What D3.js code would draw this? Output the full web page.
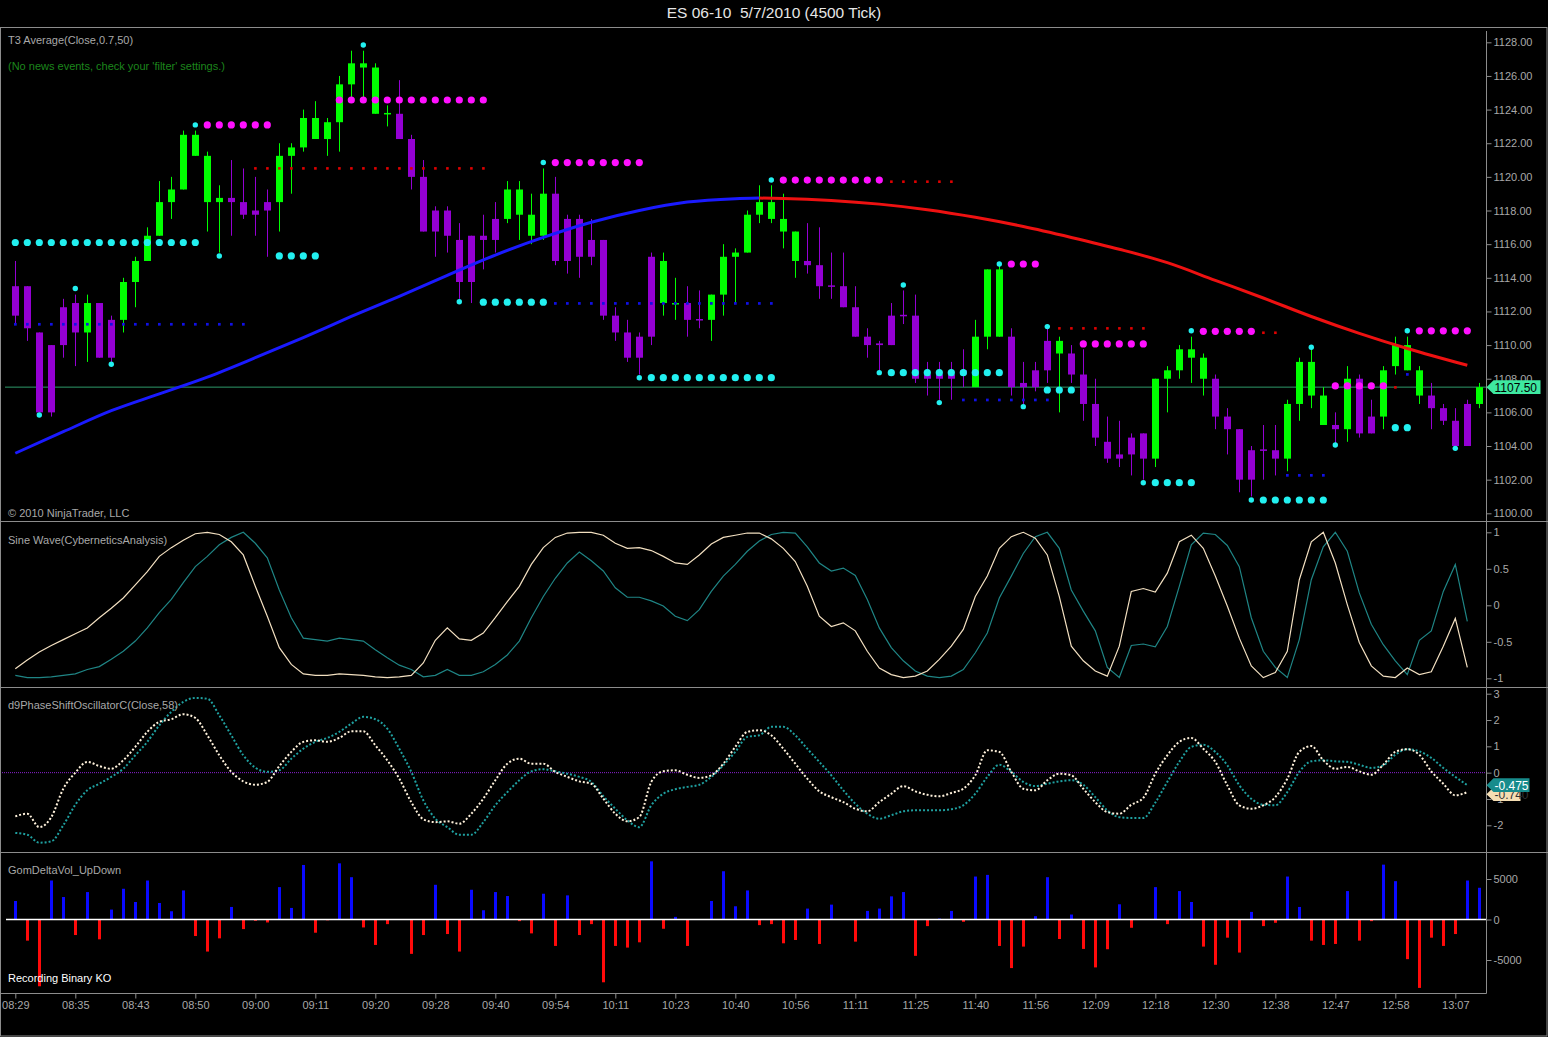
<!DOCTYPE html>
<html><head><meta charset="utf-8">
<script src="https://cdn.jsdelivr.net/npm/d3@7"></script>
<style>html,body{margin:0;padding:0;background:#000;overflow:hidden}text{font-family:"Liberation Sans",Arial,sans-serif}</style>
</head><body>
<svg id="c" width="1548" height="1037"></svg>
<script>
// ---------- DATA ----------
const opens=[1113.5,1113.5,1110.75,1110.0,1112.25,1112.5,1110.75,1112.5,1111.5,1111.5,
1113.75,1115.0,1116.5,1118.5,1119.25,1121.25,1118.5,1118.5,1118.75,1118.5,
1118.0,1118.5,1118.5,1121.25,1121.75,1122.25,1122.25,1123.25,1125.5,1126.5,
1123.75,1123.75,1123.75,1122.25,1120.0,1118.0,1118.0,1116.25,1116.5,1116.5,
1117.5,1117.5,1117.75,1116.5,1116.5,1119.0,1117.5,1117.5,1116.25,1116.25,
1111.75,1110.75,1110.5,1115.25,1112.5,1112.45,1112.5,1111.55,1111.5,1113.0,
1115.25,1115.5,1117.75,1117.5,1116.75,1115.0,1115.0,1114.75,1113.55,1113.5,
1112.25,1110.5,1110.1,1111.75,1111.8,1111.75,1108.25,1108.25,1108.25,1108.5,
1107.5,1110.5,1110.5,1110.5,1107.75,1108.5,1110.25,1109.5,1109.5,1108.25,
1106.5,1104.25,1103.5,1104.5,1104.75,1103.25,1108.0,1108.5,1109.25,1108.0,
1108.0,1105.75,1105.0,1103.75,1103.8,1103.75,1103.25,1106.5,1107.0,1105.25,
1105.25,1105.0,1108.0,1105.75,1105.75,1108.75,1108.5,1107.0,1107.0,1106.25,
1105.5,1106.5,1106.5];
const highs=[1115.0,1113.5,1110.75,1110.0,1112.75,1113.0,1113.0,1112.5,1111.75,1114.0,
1115.25,1117.0,1119.75,1120.0,1122.75,1122.75,1121.5,1119.5,1121.0,1120.5,
1120.0,1119.25,1122.0,1122.0,1124.0,1124.5,1123.5,1126.0,1127.5,1127.5,
1126.75,1124.25,1125.75,1122.5,1121.0,1118.25,1118.25,1117.25,1116.5,1117.75,
1118.5,1119.75,1119.75,1119.0,1120.5,1120.0,1117.75,1117.75,1117.5,1116.25,
1112.25,1111.5,1110.75,1115.5,1115.5,1114.0,1113.5,1113.25,1113.0,1116.0,
1115.75,1118.0,1119.5,1119.5,1119.0,1116.75,1117.25,1117.0,1115.5,1115.5,
1113.5,1111.0,1110.25,1112.5,1113.25,1113.0,1109.0,1109.0,1109.0,1109.75,
1111.5,1114.5,1114.75,1111.0,1109.0,1109.0,1111.0,1110.5,1110.0,1109.75,
1108.0,1105.75,1105.5,1104.75,1104.75,1108.0,1108.75,1110.0,1110.5,1109.5,
1108.25,1106.25,1105.0,1104.0,1105.25,1105.25,1106.75,1109.25,1109.75,1107.5,
1106.0,1108.75,1108.25,1106.75,1108.75,1110.5,1110.5,1108.75,1107.75,1106.5,
1106.25,1106.75,1107.75];
const lows=[1111.25,1110.25,1106.0,1105.75,1109.25,1108.75,1109.0,1109.25,1109.0,1110.75,
1112.25,1115.0,1116.5,1117.5,1119.25,1121.25,1116.75,1115.5,1116.5,1117.5,
1116.5,1115.25,1116.75,1119.0,1121.5,1122.25,1121.25,1121.5,1124.75,1124.75,
1123.75,1123.0,1122.25,1119.25,1116.75,1115.25,1115.5,1112.75,1112.5,1114.5,
1115.5,1117.25,1116.25,1116.0,1116.25,1114.75,1114.25,1114.0,1114.75,1111.5,
1110.25,1109.0,1108.25,1110.0,1111.75,1111.5,1110.5,1111.0,1110.25,1111.75,
1112.5,1115.5,1117.25,1117.25,1115.75,1114.0,1114.25,1112.75,1112.75,1112.25,
1110.5,1109.25,1108.5,1110.0,1111.25,1107.75,1107.0,1106.75,1106.75,1107.5,
1107.5,1109.75,1110.5,1107.0,1106.5,1107.25,1107.75,1106.0,1107.75,1105.5,
1104.0,1103.0,1102.75,1102.25,1102.0,1102.75,1106.0,1108.0,1107.75,1107.0,
1105.0,1103.5,1101.25,1101.0,1102.0,1102.25,1102.5,1105.5,1106.25,1105.25,
1104.0,1104.25,1104.5,1104.75,1105.0,1108.25,1108.5,1106.5,1105.0,1105.25,
1104.0,1104.0,1106.25];
const closes=[1111.75,1111.0,1106.0,1106.0,1110.0,1110.75,1112.5,1109.25,1109.25,1113.75,
1115.0,1116.5,1118.5,1119.25,1122.5,1122.5,1121.25,1118.75,1118.5,1117.75,
1117.75,1118.0,1121.25,1121.75,1123.5,1123.5,1123.25,1125.5,1126.75,1126.75,
1126.5,1123.8,1122.25,1120.0,1116.75,1116.75,1116.5,1113.75,1113.75,1116.25,
1116.25,1119.25,1119.25,1117.75,1119.0,1115.0,1115.0,1115.25,1115.25,1111.75,
1110.75,1109.25,1109.25,1110.5,1115.0,1112.5,1111.5,1111.5,1113.0,1115.25,
1115.5,1117.75,1118.5,1118.5,1117.5,1116.75,1114.75,1113.5,1113.5,1112.25,
1110.5,1110.0,1110.0,1110.0,1111.75,1108.0,1108.0,1108.0,1108.0,1108.25,
1110.5,1114.5,1114.5,1107.5,1107.5,1107.5,1108.5,1110.25,1108.25,1106.5,
1104.5,1103.25,1103.25,1103.5,1103.25,1108.0,1108.5,1109.75,1109.75,1109.25,
1105.75,1105.0,1102.0,1102.0,1103.75,1103.25,1106.5,1109.0,1109.0,1107.0,
1105.0,1108.0,1104.75,1104.75,1108.5,1110.0,1110.0,1108.5,1106.25,1105.5,
1104.0,1104.0,1107.5];

const timeLabels=["08:29","08:35","08:43","08:50","09:00","09:11","09:20","09:28","09:40","09:54","10:11","10:23","10:40",
"10:56","11:11","11:25","11:40","11:56","12:09","12:18","12:30","12:38","12:47","12:58","13:07"];
const timeLabelEvery=5;

const priceTicks=[1100,1102,1104,1106,1108,1110,1112,1114,1116,1118,1120,1122,1124,1126,1128];
const sineTicks=[1,0.5,0,-0.5,-1];
const oscTicks=[3,2,1,0,-1,-2];
const volTicks=[5000,0,-5000];
const lastPrice=1107.5;

// T3 average, read at selected bars
const t3Bars=[0,4,8,12,16,20,24,28,32,36,40,44,48,52,56,60,62,64,68,72,76,80,84,88,92,96,100,104,108,112,116,121];
const t3Vals=[1103.57,1104.85,1106.1,1107.1,1108.1,1109.25,1110.45,1111.7,1112.9,1114.15,1115.35,1116.4,1117.3,1118.0,1118.5,1118.7,1118.74,1118.72,1118.6,1118.38,1118.05,1117.6,1117.05,1116.4,1115.7,1114.9,1113.85,1112.8,1111.7,1110.7,1109.8,1108.8];

// swing indicator: [fromBar, toBar, price]
const supportRows=[[0,15,1116.1],[22,25,1115.3],[39,44,1112.55],[53,63,1108.06],[73,82,1108.36],[86,88,1107.33],[95,98,1101.82],[104,109,1100.79],[115,116,1105.09]];
const resistRows=[[16,21,1123.09],[27,39,1124.57],[45,52,1120.85],[64,72,1119.81],[83,85,1114.82],[89,94,1110.07],[99,103,1110.82],[110,114,1107.57],[117,121,1110.85]];
const redRows=[[20,39,1120.51],[73,78,1119.72],[87,94,1111.0],[104,105,1110.74],[115,115,1107.49]];
const blueRows=[[0,19,1111.24],[45,63,1112.48],[79,86,1106.74],[106,109,1102.26],[116,116,1108.26]];
const swingBars=[2,5,8,15,17,29,37,44,52,63,72,74,77,82,84,86,94,98,103,108,110,116,120];
const swingPrices=[1105.84,1113.36,1108.86,1123.09,1115.3,1127.84,1112.58,1120.85,1108.06,1119.81,1108.36,1113.57,1106.58,1114.82,1106.34,1111.1,1101.82,1110.85,1100.79,1109.87,1104.06,1110.85,1103.86];

const sineVals=[-0.87,-0.75,-0.64,-0.55,-0.47,-0.39,-0.31,-0.17,-0.04,0.10,
0.28,0.46,0.67,0.79,0.89,0.98,1.00,0.97,0.87,0.69,
0.26,-0.15,-0.58,-0.81,-0.94,-0.96,-0.96,-0.94,-0.95,-0.96,
-0.98,-0.99,-0.98,-0.96,-0.79,-0.48,-0.31,-0.46,-0.48,-0.38,
-0.17,0.05,0.26,0.56,0.79,0.93,0.99,1.00,1.00,0.96,
0.85,0.78,0.79,0.75,0.67,0.58,0.56,0.69,0.84,0.93,
0.96,0.99,0.99,0.91,0.78,0.60,0.26,-0.15,-0.29,-0.24,
-0.35,-0.63,-0.86,-0.95,-0.99,-0.97,-0.90,-0.74,-0.56,-0.33,
0.12,0.40,0.78,0.94,1.00,0.92,0.69,0.12,-0.56,-0.76,
-0.90,-0.97,-0.56,0.19,0.23,0.18,0.44,0.87,0.96,0.78,
0.40,-0.01,-0.45,-0.83,-0.99,-0.92,-0.63,0.35,0.87,1.00,
0.58,0.01,-0.51,-0.83,-0.97,-0.99,-0.86,-0.95,-0.91,-0.56,
-0.18,-0.85];
const leadSineVals=[-0.96,-0.99,-0.99,-0.98,-0.96,-0.94,-0.88,-0.84,-0.74,-0.63,
-0.49,-0.31,-0.10,0.08,0.31,0.53,0.67,0.83,0.93,1.00,
0.85,0.65,0.21,-0.17,-0.45,-0.47,-0.49,-0.45,-0.47,-0.49,
-0.61,-0.72,-0.82,-0.88,-0.98,-0.96,-0.88,-0.96,-0.96,-0.91,
-0.81,-0.68,-0.49,-0.17,0.12,0.37,0.58,0.73,0.61,0.47,
0.24,0.11,0.11,0.06,-0.01,-0.15,-0.21,-0.06,0.19,0.40,
0.56,0.74,0.88,0.97,1.00,0.99,0.80,0.58,0.47,0.51,
0.41,0.08,-0.31,-0.58,-0.76,-0.90,-0.97,-0.99,-0.97,-0.88,
-0.65,-0.38,0.10,0.40,0.71,0.94,1.00,0.78,0.21,-0.08,
-0.35,-0.85,-0.99,-0.55,-0.53,-0.57,-0.29,0.26,0.83,0.99,
0.97,0.82,0.53,-0.17,-0.63,-0.85,-0.99,-0.47,0.35,0.80,
1.00,0.74,0.17,-0.26,-0.54,-0.76,-0.95,-0.48,-0.35,0.19,
0.56,-0.22];

const oscFast=[-1.66,-1.56,-2.07,-1.69,-0.61,0.0,0.41,0.25,0.15,0.47,
0.98,1.55,1.93,2.03,2.22,2.08,1.42,0.66,0.03,-0.33,
-0.46,-0.35,0.25,0.79,1.17,1.23,1.17,1.32,1.57,1.57,
1.04,0.47,-0.23,-1.12,-1.77,-1.88,-1.85,-1.94,-1.56,-0.99,
-0.29,0.34,0.53,0.34,0.34,0.03,-0.16,-0.33,-0.42,-0.99,
-1.56,-1.85,-1.69,-0.35,0.05,0.09,-0.08,-0.20,-0.10,0.34,
0.98,1.55,1.61,1.42,0.91,0.34,-0.23,-0.71,-0.93,-1.12,
-1.37,-1.47,-1.12,-0.80,-0.51,-0.71,-0.84,-0.90,-0.77,-0.61,
-0.10,0.85,0.79,0.03,-0.61,-0.67,-0.29,-0.04,-0.10,-0.61,
-1.12,-1.50,-1.56,-1.22,-0.96,-0.04,0.66,1.17,1.32,0.91,
0.41,-0.48,-1.24,-1.37,-1.24,-0.93,-0.23,0.79,1.01,0.47,
0.15,0.22,0.05,-0.08,0.30,0.79,0.89,0.68,0.05,-0.42,
-0.86,-0.74];
const oscSlow=[-2.29,-2.36,-2.66,-2.61,-2.00,-1.22,-0.67,-0.42,-0.16,0.15,
0.66,1.17,1.80,2.31,2.69,2.84,2.81,2.18,1.42,0.66,
0.19,0.03,0.09,0.53,0.91,1.17,1.32,1.55,1.86,2.12,
2.03,1.67,0.91,0.03,-1.05,-1.75,-2.07,-2.36,-2.36,-1.88,
-1.24,-0.74,-0.29,0.05,0.13,0.05,-0.04,-0.16,-0.35,-0.89,
-1.37,-1.81,-2.07,-1.24,-0.80,-0.63,-0.54,-0.46,-0.16,0.28,
0.79,1.36,1.42,1.74,1.74,1.42,0.91,0.41,-0.10,-0.67,
-1.18,-1.56,-1.75,-1.62,-1.47,-1.43,-1.43,-1.43,-1.39,-1.24,
-0.80,-0.16,0.30,0.03,-0.35,-0.51,-0.42,-0.33,-0.29,-0.46,
-0.93,-1.43,-1.69,-1.72,-1.72,-1.14,-0.35,0.41,0.98,1.06,
0.79,0.28,-0.48,-0.99,-1.22,-1.24,-0.74,0.03,0.43,0.47,
0.43,0.41,0.30,0.18,0.28,0.68,0.89,0.81,0.56,0.18,
-0.16,-0.475];

const deltaVol=[2285,-2611,-8242,4814,2774,-1918,3386,-2448,1224,3794,
2162,4814,2040,1020,3590,-2040,-3958,-2326,1550,-1183,
-163,-367,3998,1428,6732,-1632,-100,6936,5222,-979,
-3142,-571,0,-4243,-1918,4284,-1795,-3958,3672,1142,
3386,2897,-204,-1714,3182,-3264,2978,-1918,-571,-7752,
-3264,-3468,-2815,7181,-1142,326,-3264,0,2285,5957,
1632,3590,-694,-571,-2938,-2530,1346,-3019,1836,-60,
-2734,1061,1346,2856,3386,-4488,-816,122,1061,-286,
5304,5508,-3264,-5998,-3346,408,5222,-2407,612,-3631,
-5916,-3672,1877,-1020,0,3998,-571,3509,2162,-3346,
-5590,-2244,-4080,938,-816,-408,5304,1550,-2611,-3142,
-3019,3509,-2611,-204,6773,4733,-4896,-8446,-2244,-3264,
-1795,4814,3917];

// ---------- DRAW ----------
const W=1548,H=1037,AX=1486.5;
const svg=d3.select("#c");
svg.append("rect").attr("width",W).attr("height",H).attr("fill","#000");

const x=d3.scaleLinear().domain([0,opens.length-1]).range([15.3,1479.3]);
const yP=d3.scaleLinear().domain([1100,1128]).range([513.3,42.3]);
const yS=d3.scaleLinear().domain([-1,1]).range([678.3,532.3]);
const yO=d3.scaleLinear().domain([-2,3]).range([825.3,693.7]);
const yV=d3.scaleLinear().domain([-5000,5000]).range([960,879]);

const gray="#8c8c8c", txtGray="#a8a8a8";

// title
svg.append("text").attr("x",W/2).attr("y",18).attr("text-anchor","middle").attr("fill","#e6e6e6")
  .attr("font-size",15.5).style("white-space","pre").text("ES 06-10  5/7/2010 (4500 Tick)");

// clip paths
const defs=svg.append("defs");
function clip(id,y0,y1){defs.append("clipPath").attr("id",id).append("rect").attr("x",1).attr("y",y0).attr("width",AX-1).attr("height",y1-y0);}
clip("cP",28,521);clip("cS",523,687);clip("cO",688,852);clip("cV",853,993);

// ---------- price panel ----------
const gP=svg.append("g").attr("clip-path","url(#cP)");
gP.append("line").attr("x1",5).attr("x2",AX).attr("y1",yP(lastPrice)).attr("y2",yP(lastPrice)).attr("stroke","#2e9a6a").attr("stroke-width",1);

const up="#00ff00", dn="#9400d3";
const idx=d3.range(opens.length);
const cg=gP.append("g");
cg.selectAll("line.w").data(idx).join("line")
  .attr("x1",i=>Math.round(x(i))+0.5).attr("x2",i=>Math.round(x(i))+0.5)
  .attr("y1",i=>yP(highs[i])).attr("y2",i=>yP(lows[i]))
  .attr("stroke",i=>closes[i]>opens[i]?up:dn).attr("stroke-width",1);
cg.selectAll("rect.b").data(idx).join("rect")
  .attr("x",i=>Math.round(x(i))-3).attr("width",7)
  .attr("y",i=>yP(Math.max(opens[i],closes[i])))
  .attr("height",i=>Math.max(1.5,Math.abs(yP(opens[i])-yP(closes[i]))))
  .attr("fill",i=>closes[i]>opens[i]?up:dn);

// T3 line (blue rising, red falling)
const peak=t3Vals.indexOf(d3.max(t3Vals));
const t3line=d3.line().x(d=>x(d[0])).y(d=>yP(d[1])).curve(d3.curveMonotoneX);
const t3pts=t3Bars.map((b,k)=>[b,t3Vals[k]]);
gP.append("path").attr("d",t3line(t3pts.slice(0,peak+1))).attr("fill","none").attr("stroke","#1a1aff").attr("stroke-width",3);
gP.append("path").attr("d",t3line(t3pts.slice(peak))).attr("fill","none").attr("stroke","#ee1111").attr("stroke-width",3);

// swing rows
function expand(rows){const out=[];rows.forEach(r=>{for(let b=r[0];b<=r[1];b++)out.push([b,r[2]]);});return out;}
const dg=gP.append("g");
dg.selectAll("rect.rd").data(expand(redRows)).join("rect").attr("x",d=>x(d[0])-1.2).attr("y",d=>yP(d[1])-1.2).attr("width",2.6).attr("height",2.6).attr("fill","#e00000");
dg.selectAll("rect.bd").data(expand(blueRows)).join("rect").attr("x",d=>x(d[0])-1.3).attr("y",d=>yP(d[1])-1.3).attr("width",2.7).attr("height",2.7).attr("fill","#1010e6");
dg.selectAll("circle.s").data(expand(supportRows)).join("circle").attr("cx",d=>x(d[0])).attr("cy",d=>yP(d[1])).attr("r",3.6).attr("fill","#22f0f0");
dg.selectAll("circle.r").data(expand(resistRows)).join("circle").attr("cx",d=>x(d[0])).attr("cy",d=>yP(d[1])).attr("r",3.6).attr("fill","#ff10ff");
dg.selectAll("circle.sw").data(swingBars.map((b,k)=>[b,swingPrices[k]])).join("circle").attr("cx",d=>x(d[0])).attr("cy",d=>yP(d[1])).attr("r",2.7).attr("fill","#22f0f0");

// price labels
svg.append("text").attr("x",8).attr("y",44).attr("fill",txtGray).attr("font-size",11).text("T3 Average(Close,0.7,50)");
svg.append("text").attr("x",8).attr("y",70).attr("fill","#1c861c").attr("font-size",11).text("(No news events, check your 'filter' settings.)");
svg.append("text").attr("x",8).attr("y",517).attr("fill",txtGray).attr("font-size",11).text("\u00a9 2010 NinjaTrader, LLC");

// ---------- sine panel ----------
const gS=svg.append("g").attr("clip-path","url(#cS)");
const sl=d3.line().x((d,i)=>x(i)).y(d=>yS(d));
gS.append("path").attr("d",sl(leadSineVals)).attr("fill","none").attr("stroke","#1f8585").attr("stroke-width",1.2);
gS.append("path").attr("d",sl(sineVals)).attr("fill","none").attr("stroke","#f2dfc0").attr("stroke-width",1.2);
svg.append("text").attr("x",8).attr("y",544).attr("fill",txtGray).attr("font-size",11).text("Sine Wave(CyberneticsAnalysis)");

// ---------- oscillator panel ----------
const gO=svg.append("g").attr("clip-path","url(#cO)");
gO.append("line").attr("x1",0).attr("x2",AX).attr("y1",yO(0)).attr("y2",yO(0)).attr("stroke","#8a22d0").attr("stroke-width",1).attr("stroke-dasharray","1,1");
const ol=d3.line().x((d,i)=>x(i)).y(d=>yO(d)).curve(d3.curveMonotoneX);
gO.append("path").attr("d",ol(oscSlow)).attr("fill","none").attr("stroke","#1fa0a0").attr("stroke-width",2).attr("stroke-dasharray","2,2");
gO.append("path").attr("d",ol(oscFast)).attr("fill","none").attr("stroke","#fff2dc").attr("stroke-width",2).attr("stroke-dasharray","2,2");
svg.append("text").attr("x",8).attr("y",709).attr("fill",txtGray).attr("font-size",11).text("d9PhaseShiftOscillatorC(Close,58)");

// ---------- volume panel ----------
const gV=svg.append("g").attr("clip-path","url(#cV)");
gV.selectAll("rect.v").data(idx).join("rect")
  .attr("x",i=>Math.round(x(i))-1).attr("width",3)
  .attr("y",i=>Math.min(yV(0),yV(deltaVol[i])))
  .attr("height",i=>Math.abs(yV(deltaVol[i])-yV(0)))
  .attr("fill",i=>deltaVol[i]>=0?"#0a0aff":"#ff0a0a");
gV.append("line").attr("x1",6).attr("x2",AX).attr("y1",yV(0)).attr("y2",yV(0)).attr("stroke","#ffffff").attr("stroke-width",1.5);
svg.append("text").attr("x",8).attr("y",874).attr("fill",txtGray).attr("font-size",11).text("GomDeltaVol_UpDown");
svg.append("text").attr("x",8).attr("y",982).attr("fill","#ffffff").attr("font-size",11).text("Recording Binary KO");

// ---------- frame ----------
const fr=svg.append("g").attr("stroke",gray).attr("stroke-width",1).attr("fill","none");
fr.append("rect").attr("x",0.5).attr("y",27.5).attr("width",W-1.5).attr("height",H-28.5);
[521.5,687.5,852.5].forEach(yy=>fr.append("line").attr("x1",0).attr("x2",W).attr("y1",yy).attr("y2",yy));
fr.append("line").attr("x1",0).attr("x2",AX).attr("y1",993.5).attr("y2",993.5);
fr.append("line").attr("x1",AX).attr("x2",AX).attr("y1",31).attr("y2",993.5);

// ---------- axes ----------
function rightAxis(scale,ticks,fmt){
  const a=d3.axisRight(scale).tickValues(ticks).tickSize(5).tickPadding(2).tickFormat(fmt);
  const g=svg.append("g").attr("transform",`translate(${AX},0)`).call(a);
  g.select(".domain").remove();
  g.selectAll("line").attr("stroke",gray);
  g.selectAll("text").attr("fill",txtGray).attr("font-size",11).attr("font-family","Liberation Sans, Arial, sans-serif");
}
rightAxis(yP,priceTicks,d3.format(".2f"));
rightAxis(yS,sineTicks,d=>String(d));
rightAxis(yO,oscTicks,d=>String(d));
rightAxis(yV,volTicks,d=>String(d));

const timeBars=timeLabels.map((t,k)=>k*timeLabelEvery);
const xa=d3.axisBottom(x).tickValues(timeBars).tickSize(5).tickPadding(3).tickFormat((d,k)=>timeLabels[k]);
const gx=svg.append("g").attr("transform","translate(0,993.5)").call(xa);
gx.select(".domain").remove();
gx.selectAll("line").attr("stroke",gray);
gx.selectAll("text").attr("fill",txtGray).attr("font-size",11).attr("font-family","Liberation Sans, Arial, sans-serif");

// ---------- value tags ----------
function tag(yv,label,fill,color,w,fs){
  const g=svg.append("g");
  g.append("path").attr("d",`M${AX},${yv} L${AX+7},${yv-6.8} L${AX+7+w},${yv-6.8} L${AX+7+w},${yv+6.8} L${AX+7},${yv+6.8} Z`).attr("fill",fill);
  g.append("text").attr("x",AX+8).attr("y",yv+4.4).attr("fill",color).attr("font-size",fs).text(label);
}
tag(yP(lastPrice),"1107.50","#3ee8a0","#000",47,12);
tag(yO(oscFast[oscFast.length-1])+2,oscFast[oscFast.length-1].toFixed(3),"#f5deb3","#333",27,12);
tag(yO(oscSlow[oscSlow.length-1]),oscSlow[oscSlow.length-1].toFixed(3),"#178c8c","#fff",36,12);
</script>
</body></html>
